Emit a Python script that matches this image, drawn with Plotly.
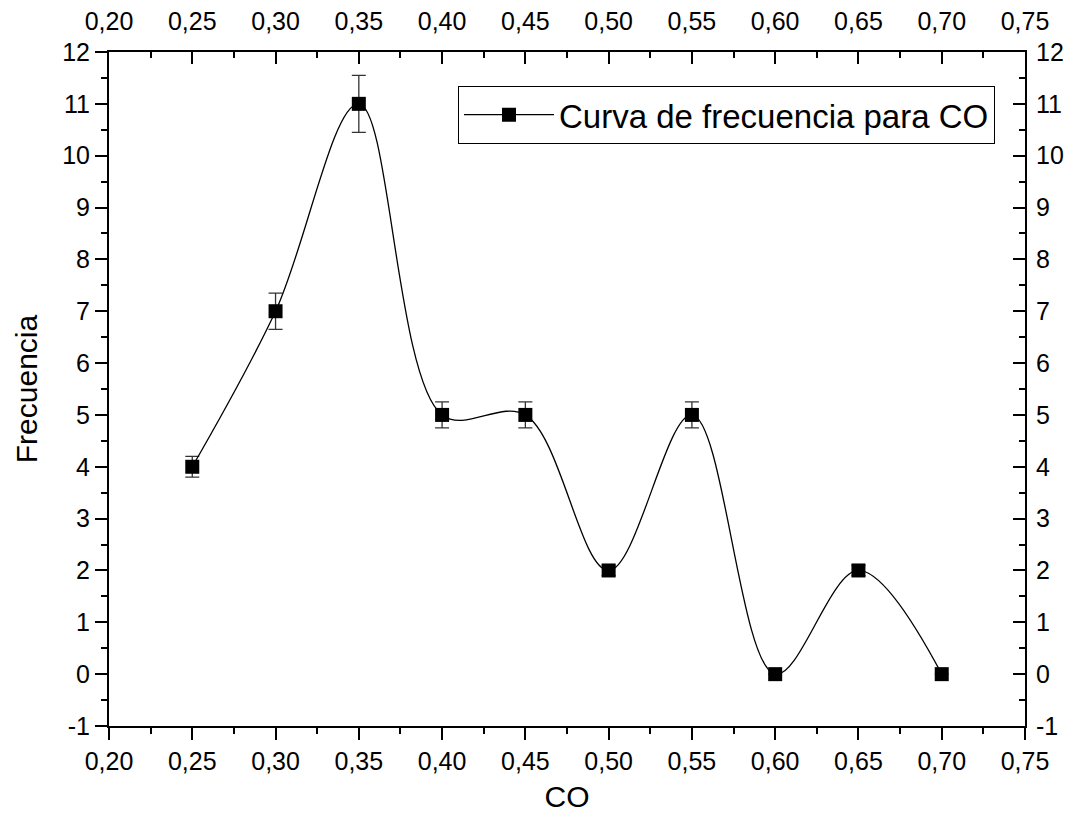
import plotly.graph_objects as go

co = [0.25, 0.30, 0.35, 0.40, 0.45, 0.50, 0.55, 0.60, 0.65, 0.70]
frecuencia = [4, 7, 11, 5, 5, 2, 5, 0, 2, 0]
error = [0.2, 0.35, 0.55, 0.25, 0.25, 0.1, 0.25, 0.0, 0.1, 0.0]

x_ticks = [0.20, 0.25, 0.30, 0.35, 0.40, 0.45, 0.50, 0.55, 0.60, 0.65, 0.70, 0.75]
x_labels = ["0,20", "0,25", "0,30", "0,35", "0,40", "0,45", "0,50", "0,55", "0,60", "0,65", "0,70", "0,75"]
y_ticks = [-1, 0, 1, 2, 3, 4, 5, 6, 7, 8, 9, 10, 11, 12]
y_labels = ["-1", "0", "1", "2", "3", "4", "5", "6", "7", "8", "9", "10", "11", "12"]

FONT = "Liberation Sans, Arial, sans-serif"

fig = go.Figure()
fig.add_trace(go.Scatter(
    x=co, y=frecuencia, mode="lines+markers",
    name="Curva de frecuencia para CO",
    line=dict(color="black", width=1.3, shape="spline", smoothing=1.0),
    marker=dict(symbol="square", size=14, color="black"),
    error_y=dict(type="data", array=error, visible=True, color="#333333", thickness=1.3, width=7),
))
# invisible trace for the mirrored top/right axes
fig.add_trace(go.Scatter(x=co, y=frecuencia, xaxis="x2", yaxis="y2", mode="markers",
                         marker=dict(opacity=0), showlegend=False, hoverinfo="skip"))

axis_common = dict(showgrid=False, zeroline=False, showline=True, linecolor="black", linewidth=2,
                   tickcolor="black", tickwidth=2, ticklen=12, automargin=False,
                   tickfont=dict(family=FONT, size=25, color="black"))

fig.update_layout(
    width=1079, height=823,
    margin=dict(l=109, r=54, t=52, b=97),
    plot_bgcolor="white", paper_bgcolor="white",
    font=dict(family=FONT, color="black"),
    xaxis=dict(range=[0.20, 0.75], tickvals=x_ticks, ticktext=x_labels, ticks="outside",
               minor=dict(ticks="outside", ticklen=6, tickwidth=2, tickcolor="black", dtick=0.025, tick0=0.2),
               title=dict(text="CO", font=dict(family=FONT, size=30, color="black"), standoff=12),
               **axis_common),
    yaxis=dict(range=[-1, 12], tickvals=y_ticks, ticktext=y_labels, ticks="outside",
               minor=dict(ticks="outside", ticklen=6, tickwidth=2, tickcolor="black", dtick=0.5, tick0=0),
               title=dict(text="Frecuencia", font=dict(family=FONT, size=30, color="black"), standoff=16),
               **axis_common),
    xaxis2=dict(range=[0.20, 0.75], tickvals=x_ticks, ticktext=x_labels, ticks="inside",
                overlaying="x", side="top", anchor="y", ticklabelstandoff=10,
                minor=dict(ticks="inside", ticklen=6, tickwidth=2, tickcolor="black", dtick=0.025, tick0=0.2),
                **axis_common),
    yaxis2=dict(range=[-1, 12], tickvals=y_ticks, ticktext=y_labels, ticks="inside",
                overlaying="y", side="right", anchor="x", ticklabelstandoff=4,
                minor=dict(ticks="inside", ticklen=6, tickwidth=2, tickcolor="black", dtick=0.5, tick0=0),
                **axis_common),
    legend=dict(x=0.381, y=0.95, xanchor="left", yanchor="top",
                bordercolor="black", borderwidth=1, bgcolor="white",
                font=dict(family=FONT, size=33, color="black"), itemwidth=90,
                tracegroupgap=0),
    showlegend=True,
)

fig.write_html("out.html")
